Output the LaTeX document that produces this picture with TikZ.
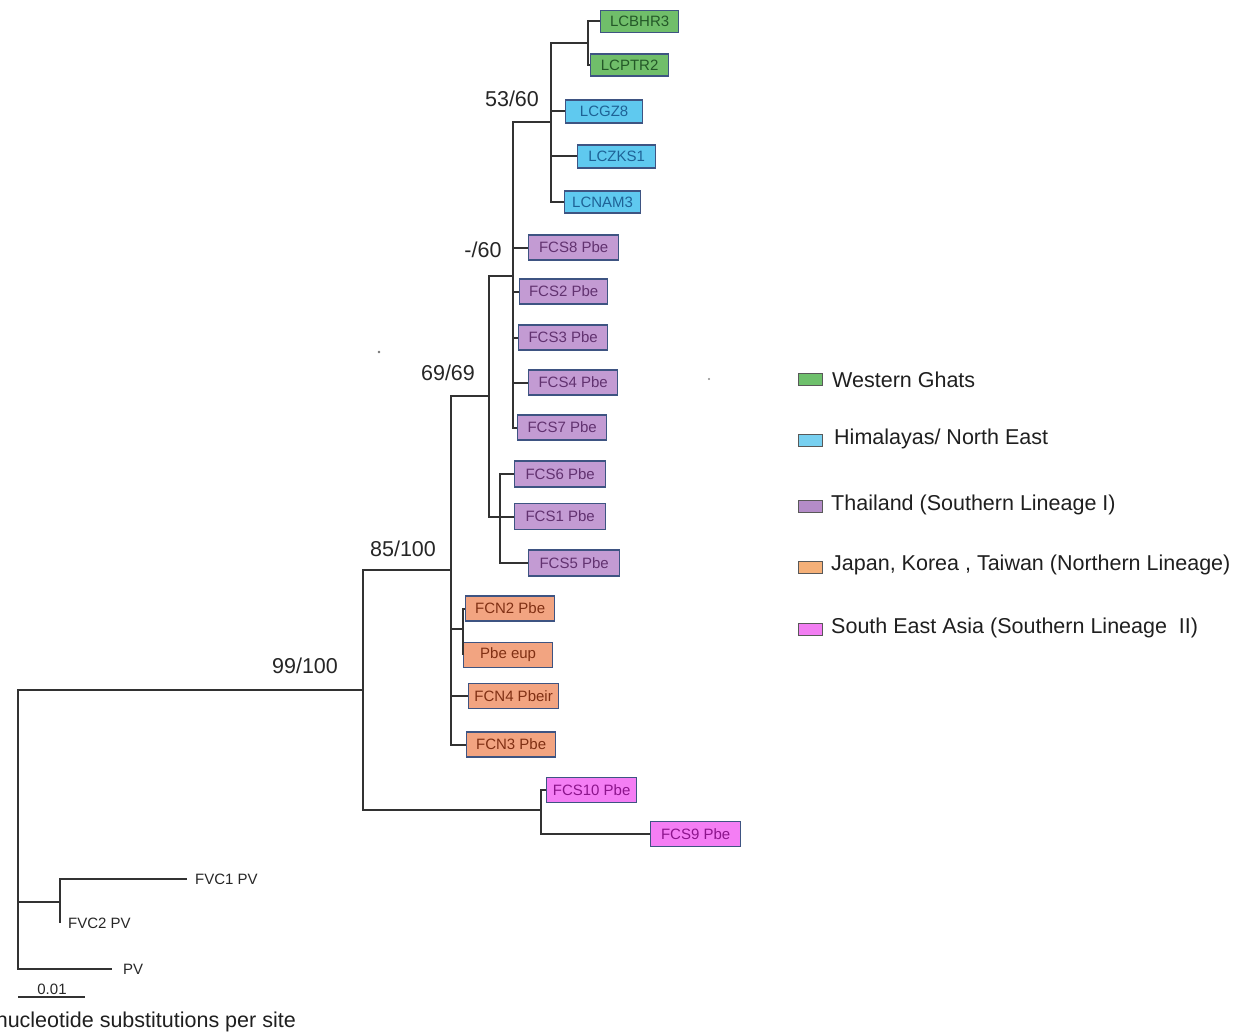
\documentclass[tikz,border=0pt]{standalone}
\usepackage{fontspec}
\setmainfont{Liberation Sans}
\definecolor{tree}{RGB}{50,50,50}
\definecolor{edge}{RGB}{62,84,130}
\definecolor{grnfill}{RGB}{112,190,106}
\definecolor{grntext}{RGB}{36,88,40}
\definecolor{blufill}{RGB}{95,201,239}
\definecolor{blutext}{RGB}{30,98,150}
\definecolor{purfill}{RGB}{195,155,211}
\definecolor{purtext}{RGB}{98,50,112}
\definecolor{orgfill}{RGB}{242,164,129}
\definecolor{orgtext}{RGB}{128,48,20}
\definecolor{magfill}{RGB}{244,126,244}
\definecolor{magtext}{RGB}{140,20,140}
\definecolor{lgrn}{RGB}{110,192,108}
\definecolor{lblu}{RGB}{120,208,240}
\definecolor{lpur}{RGB}{180,140,200}
\definecolor{lorg}{RGB}{245,176,120}
\definecolor{lmag}{RGB}{242,126,242}
\begin{document}
\begin{tikzpicture}[x=1pt,y=-1pt,
  br/.style={draw=tree, line width=2pt},
  brthin/.style={draw=tree, line width=1.6pt},
  leafbox/.style={draw=edge, line width=1.2pt, anchor=west, minimum height=24pt, inner sep=0pt, font=\fontsize{15}{17}\selectfont},
  grn/.style={leafbox, fill=grnfill, text=grntext, minimum height=22pt, minimum width=78pt},
  blu/.style={leafbox, fill=blufill, text=blutext, minimum height=23pt, minimum width=77pt},
  pur/.style={leafbox, fill=purfill, text=purtext, minimum height=25pt, minimum width=90pt},
  org/.style={leafbox, fill=orgfill, text=orgtext, minimum height=25pt, minimum width=89pt},
  mag/.style={leafbox, fill=magfill, text=magtext, minimum height=25pt, minimum width=90pt},
  support/.style={font=\fontsize{21.5}{24}\selectfont, text=black!85},
  plain/.style={font=\fontsize{15}{17}\selectfont, text=black!85, inner sep=0pt},
  legbox/.style={draw=black!65, line width=1pt, minimum width=24pt, minimum height=12pt, inner sep=0pt},
  legtext/.style={anchor=west, inner sep=0pt, font=\fontsize{21.5}{24}\selectfont, text=black!88}
]
\useasboundingbox (0,0) rectangle (1252,1035);

% leaf boxes
\node[grn] (bhr3) at (600,21.5) {LCBHR3};
\node[grn] (ptr2) at (590,65) {LCPTR2};
\node[blu] (gz8) at (565,111.5) {LCGZ8};
\node[blu, minimum width=78pt] (zks1) at (577,156.5) {LCZKS1};
\node[blu, minimum width=76pt, minimum height=22pt] (nam3) at (564,202) {LCNAM3};
\node[pur] (fcs8) at (528,247.5) {FCS8 Pbe};
\node[pur, minimum width=88pt] (fcs2) at (519,291.5) {FCS2 Pbe};
\node[pur, minimum width=89pt] (fcs3) at (518,337.5) {FCS3 Pbe};
\node[pur, minimum width=89pt] (fcs4) at (528,382.5) {FCS4 Pbe};
\node[pur, minimum width=89pt] (fcs7) at (517,427.5) {FCS7 Pbe};
\node[pur, minimum width=91pt, minimum height=26pt] (fcs6) at (514,474) {FCS6 Pbe};
\node[pur, minimum width=91pt, minimum height=26pt] (fcs1) at (514,516.5) {FCS1 Pbe};
\node[pur, minimum width=91pt, minimum height=26pt] (fcs5) at (528,563) {FCS5 Pbe};
\node[org] (fcn2) at (465,608.5) {FCN2 Pbe};
\node[org] (eup) at (463,655) {Pbe eup};
\node[org, minimum width=90pt] (fcn4) at (468,696) {FCN4 Pbeir};
\node[org] (fcn3) at (466,744.5) {FCN3 Pbe};
\node[mag] (fcs10) at (546,790) {FCS10 Pbe};
\node[mag] (fcs9) at (650,834) {FCS9 Pbe};

% outgroup labels
\node[plain, anchor=west] (fvc1) at (195,879) {FVC1 PV};
\node[plain, anchor=west] (fvc2) at (68,923) {FVC2 PV};
\node[plain, anchor=west] (pv) at (123,969) {PV};

% internal nodes
\coordinate (root) at (18,800);
\coordinate (c99) at (363,690);
\coordinate (c85) at (451,570);
\coordinate (c69) at (489,396);
\coordinate (c60) at (513,276);
\coordinate (c53) at (551,122);
\coordinate (cbp) at (588,43);
\coordinate (c56) at (500,518);
\coordinate (cn) at (463,629);
\coordinate (cse) at (541,810);
\coordinate (cfvc) at (60,902);
\coordinate (fvc1end) at (187,879);
\coordinate (fvc2end) at (60,923);
\coordinate (pvend) at (112,969);

% branches
\begin{scope}[br]
\draw (c53) |- (cbp);
\draw (cbp) |- (bhr3.west);
\draw (cbp) |- (ptr2.west);
\draw (c53) |- (gz8.west);
\draw (c53) |- (zks1.west);
\draw (c53) |- (nam3.west);
\draw (c60) |- (c53);
\draw (c60) |- (fcs8.west);
\draw (c60) |- (fcs2.west);
\draw (c60) |- (fcs3.west);
\draw (c60) |- (fcs4.west);
\draw (c60) |- (fcs7.west);
\draw (c69) |- (c60);
\draw (c69) |- (fcs1.west);
\draw (c56) |- (fcs6.west);
\draw (c56) |- (fcs5.west);
\draw (c85) |- (c69);
\draw (c85) |- (cn);
\draw (cn) |- (fcn2.west);
\draw (cn) |- (eup.west);
\draw (c85) |- (fcn4.west);
\draw (c85) |- (fcn3.west);
\draw (c99) |- (c85);
\draw (c99) |- (cse);
\draw (cse) |- (fcs10.west);
\draw (cse) |- (fcs9.west);
\end{scope}
\begin{scope}[brthin]
\draw (root) |- (c99);
\draw (root) |- (cfvc);
\draw (root) |- (pvend);
\draw (cfvc) |- (fvc1end);
\draw (cfvc) -- (fvc2end);
\end{scope}

% support values
\node[support] (s53) at (512,99) {53/60};
\node[support] (s60) at (483,250) {-/60};
\node[support] (s69) at (448,373) {69/69};
\node[support] (s85) at (403,549) {85/100};
\node[support] (s99) at (305,666) {99/100};

% scale bar
\coordinate (sb1) at (18,997);
\coordinate (sb2) at (85,997);
\draw[brthin] (sb1) -- (sb2);
\node[plain] (sbl) at (52,989) {0.01};
\node[anchor=east, inner sep=0pt, font=\fontsize{21.5}{24}\selectfont, text=black!88] (axis) at (296,1022) {nucleotide substitutions per site};

% specks
\fill[black!55] (379,352) circle (1.3);
\fill[black!45] (709,379) circle (1.1);

% legend
\node[legbox, fill=lgrn] (lg1) at (810.5,379.5) {};
\node[legbox, fill=lblu] (lg2) at (810.5,440) {};
\node[legbox, fill=lpur] (lg3) at (810.5,506) {};
\node[legbox, fill=lorg] (lg4) at (810.5,567) {};
\node[legbox, fill=lmag] (lg5) at (810.5,629) {};
\node[legtext] (lt1) at (832,380) {Western Ghats};
\node[legtext] (lt2) at (834,439) {Himalayas/ North East};
\node[legtext] (lt3) at (831,505) {Thailand (Southern Lineage I)};
\node[legtext] (lt4) at (831,565) {Japan, Korea , Taiwan (Northern Lineage)};
\node[legtext] (lt5) at (831,628) {South East Asia (Southern Lineage\ \ II)};
\end{tikzpicture}
\end{document}
